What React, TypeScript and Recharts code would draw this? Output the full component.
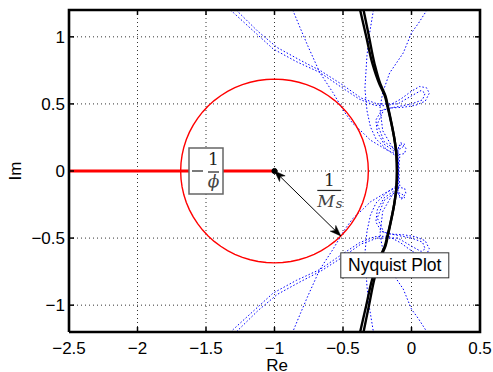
import React from 'react';
import { ComposedChart, Line, XAxis, YAxis, CartesianGrid, ReferenceDot } from 'recharts';

// Axis setup
const xTicks = [-2.5, -2, -1.5, -1, -0.5, 0, 0.5];
const yTicks = [-1, -0.5, 0, 0.5, 1];
const xDomain: [number, number] = [-2.5, 0.5];
const yDomain: [number, number] = [-1.2, 1.2];

// Nominal Nyquist curve (upper half, Re/Im), two close traces forming the thick band
const nyquistTraceA: [number, number][] = [
  [-0.375, 1.2], [-0.33, 1.0], [-0.285, 0.8], [-0.235, 0.65], [-0.195, 0.56],
  [-0.175, 0.48], [-0.148, 0.36], [-0.125, 0.24], [-0.11, 0.12], [-0.106, 0],
];
const nyquistTraceB: [number, number][] = [
  [-0.35, 1.2], [-0.31, 1.0], [-0.27, 0.8], [-0.228, 0.65], [-0.19, 0.56],
  [-0.172, 0.48], [-0.147, 0.36], [-0.125, 0.24], [-0.11, 0.12], [-0.106, 0],
];

// Perturbed-model Nyquist curves (upper half, blue dotted)
const perturbedA1: [number, number][] = [
  [-1.32, 1.2], [-1.3, 1.18], [-1.15, 1.04], [-1.01, 0.91], [-0.84, 0.815], [-0.67, 0.735],
  [-0.52, 0.63], [-0.38, 0.535], [-0.27, 0.49], [-0.17, 0.485], [-0.08, 0.535], [0.0, 0.595],
  [0.06, 0.63], [0.11, 0.62], [0.13, 0.58], [0.1, 0.52], [0.03, 0.49], [-0.06, 0.475],
  [-0.15, 0.47], [-0.22, 0.45], [-0.26, 0.38], [-0.25, 0.29], [-0.2, 0.2], [-0.13, 0.15],
  [-0.07, 0.17], [-0.05, 0.2], [-0.08, 0.21], [-0.1, 0.16], [-0.095, 0.08], [-0.095, 0],
];
const perturbedA2: [number, number][] = [
  [-1.28, 1.2], [-1.26, 1.18], [-1.12, 1.04], [-0.98, 0.92], [-0.82, 0.83], [-0.66, 0.745],
  [-0.5, 0.64], [-0.37, 0.545], [-0.25, 0.5], [-0.1, 0.5], [0.0, 0.56], [0.07, 0.6],
  [0.1, 0.58], [0.08, 0.53], [0.0, 0.5], [-0.1, 0.48], [-0.2, 0.46], [-0.25, 0.35],
  [-0.2, 0.22], [-0.12, 0.16], [-0.1, 0.08], [-0.1, 0],
];
const perturbedB: [number, number][] = [
  [-0.867, 1.2], [-0.81, 1.06], [-0.76, 0.94], [-0.67, 0.735], [-0.574, 0.585],
  [-0.487, 0.436], [-0.43, 0.356], [-0.36, 0.29], [-0.3, 0.23], [-0.18, 0.157], [-0.1, 0.12],
  [-0.05, 0.13], [-0.04, 0.17], [-0.07, 0.2], [-0.1, 0.17], [-0.1, 0.08], [-0.1, 0],
];
const perturbedC: [number, number][] = [
  [-0.278, 1.2], [-0.31, 1.0], [-0.325, 0.86], [-0.34, 0.615], [-0.325, 0.45],
  [-0.3, 0.33], [-0.26, 0.24], [-0.18, 0.16], [-0.11, 0.11], [-0.095, 0.05], [-0.095, 0],
];
const perturbedD: [number, number][] = [
  [0.113, 1.2], [0.05, 1.1], [0.0, 1.03], [-0.06, 0.88], [-0.16, 0.73],
  [-0.21, 0.585], [-0.23, 0.47], [-0.21, 0.3], [-0.135, 0.17], [-0.085, 0.12], [-0.09, 0.05], [-0.09, 0],
];

// Critical-point construction
const criticalPoint = -1;
const circleRadius = 0.685; // 1/Ms
const phiLineStart = -2.5;
const arrowAngleDeg = -45;
const phiLabelRe = -1.5;
const msLabelPos = { re: -0.6, im: -0.145 };
const nyquistLabelPos = { re: -0.122, im: -0.703 };

type P = { re: number; im: number };
const toPts = (a: [number, number][]): P[] => a.map(([re, im]) => ({ re, im }));
// Nyquist plots are conjugate-symmetric: lower half is the mirror of the upper half
const fullCurve = (upper: [number, number][]): P[] => [
  ...toPts(upper),
  ...[...upper].reverse().slice(1).map(([re, im]) => ({ re, im: -im })),
];

const circlePts: P[] = Array.from({ length: 73 }, (_, i) => {
  const t = (i * 5 * Math.PI) / 180;
  return { re: criticalPoint + circleRadius * Math.cos(t), im: circleRadius * Math.sin(t) };
});
const phiLine: P[] = [{ re: phiLineStart, im: 0 }, { re: criticalPoint, im: 0 }];
const arrowPts: P[] = [
  { re: criticalPoint, im: 0 },
  {
    re: criticalPoint + circleRadius * Math.cos((arrowAngleDeg * Math.PI) / 180),
    im: circleRadius * Math.sin((arrowAngleDeg * Math.PI) / 180),
  },
];
// Axes box (plot frame) through the domain corners
const framePts: P[] = [
  { re: xDomain[0], im: yDomain[0] }, { re: xDomain[0], im: yDomain[1] },
  { re: xDomain[1], im: yDomain[1] }, { re: xDomain[1], im: yDomain[0] },
  { re: xDomain[0], im: yDomain[0] },
];

const blueCurves = [perturbedA1, perturbedA2, perturbedB, perturbedC, perturbedD].map(fullCurve);
const blackCurves = [nyquistTraceA, nyquistTraceB].map(fullCurve);

const SANS = '"Liberation Sans", Arial, Helvetica, sans-serif';
const SERIF = '"DejaVu Serif", "Liberation Serif", serif';
const fmt = (v: number) => (v < 0 ? '\u2212' : '') + String(Math.abs(v));

const BottomTick = (p: any) => (
  <g>
    <line x1={p.x} y1={p.y} x2={p.x} y2={p.y - 5} stroke="#000" strokeWidth={1.5} />
    <text x={p.x} y={p.y + 22} textAnchor="middle" fontSize={17} fontFamily={SANS} fill="#000">
      {fmt(p.payload.value)}
    </text>
  </g>
);
const LeftTick = (p: any) => (
  <g>
    <line x1={p.x} y1={p.y} x2={p.x + 5} y2={p.y} stroke="#000" strokeWidth={1.5} />
    <text x={p.x - 4} y={p.y + 6} textAnchor="end" fontSize={17} fontFamily={SANS} fill="#000">
      {fmt(p.payload.value)}
    </text>
  </g>
);
const TopTickMark = (p: any) => (
  <line x1={p.cx} y1={p.cy} x2={p.cx} y2={p.cy + 5} stroke="#000" strokeWidth={1.5} />
);
const RightTickMark = (p: any) => (
  <line x1={p.cx} y1={p.cy} x2={p.cx - 5} y2={p.cy} stroke="#000" strokeWidth={1.5} />
);

const ArrowDot = (props: any) => {
  const { cx, cy, index, points } = props;
  let dx = index === 0 ? -1 : 1;
  let dy = index === 0 ? -1 : 1;
  if (points && points.length === 2) {
    const o = points[1 - index];
    dx = cx - o.x;
    dy = cy - o.y;
  }
  const len = Math.hypot(dx, dy) || 1;
  const ux = dx / len;
  const uy = dy / len;
  const L = 11, W = 4, N = 8;
  const bx = cx - ux * L;
  const by = cy - uy * L;
  const d = `M${cx},${cy} L${bx - uy * W},${by + ux * W} L${cx - ux * N},${cy - uy * N} L${bx + uy * W},${by - ux * W} Z`;
  return <path key={`ah${index}`} d={d} fill="#000" stroke="#000" strokeWidth={0.5} />;
};

const PhiLabel = (p: any) => {
  const { cx, cy } = p;
  return (
    <g>
      <rect x={cx - 17} y={cy - 23} width={34} height={46} fill="#fff" stroke="#666" strokeWidth={1.5} />
      <line x1={cx - 14} y1={cy} x2={cx - 3} y2={cy} stroke="#222" strokeWidth={1.2} />
      <text x={cx + 7.5} y={cy - 6} textAnchor="middle" fontSize={17} fontFamily={SERIF} fill="#222">1</text>
      <line x1={cx + 2} y1={cy + 1} x2={cx + 13} y2={cy + 1} stroke="#222" strokeWidth={1.2} />
      <text x={cx + 7.5} y={cy + 16} textAnchor="middle" fontSize={17} fontStyle="italic" fontFamily={SERIF} fill="#444">{'\u03D5'}</text>
    </g>
  );
};

const MsLabel = (p: any) => {
  const { cx, cy } = p;
  return (
    <g>
      <text x={cx} y={cy - 4} textAnchor="middle" fontSize={17} fontFamily={SERIF} fill="#222">1</text>
      <line x1={cx - 12} y1={cy} x2={cx + 12} y2={cy} stroke="#222" strokeWidth={1.2} />
      <text x={cx - 12} y={cy + 17} fontSize={17} fontStyle="italic" fontFamily={SERIF} fill="#444">
        M<tspan fontSize={13} dx={1} dy={1}>s</tspan>
      </text>
    </g>
  );
};

const NyquistLabel = (p: any) => {
  const { cx, cy } = p;
  return (
    <g>
      <rect x={cx - 54} y={cy - 12.5} width={108} height={25} fill="#fff" stroke="#333" strokeWidth={1} />
      <text x={cx} y={cy + 6} textAnchor="middle" fontSize={17.5} fontFamily={SANS} fill="#000">Nyquist Plot</text>
    </g>
  );
};

export default function App() {
  return (
    <div style={{ position: 'absolute', left: 0, top: 0, width: 493, height: 372, overflow: 'hidden', background: '#fff' }}>
      <ComposedChart width={493} height={372} margin={{ top: 10, right: 13, bottom: 10, left: 9 }}>
        <CartesianGrid stroke="#333" strokeDasharray="1 3" strokeWidth={1} />
        <XAxis
          dataKey="re" type="number" domain={xDomain} ticks={xTicks} interval={0}
          height={30} tickSize={0} tickMargin={0} tickLine={false} tick={BottomTick} axisLine={false}
        />
        <YAxis
          dataKey="im" type="number" domain={yDomain} ticks={yTicks} interval={0}
          width={60} tickSize={0} tickMargin={0} tickLine={false} tick={LeftTick} axisLine={false}
        />
        {blueCurves.map((c, i) => (
          <Line
            key={`blue${i}`} data={c} dataKey="im" type="linear" stroke="#0000ff" strokeWidth={1}
            strokeDasharray="1.5 2" dot={false} activeDot={false} isAnimationActive={false} legendType="none"
          />
        ))}
        <Line data={circlePts} dataKey="im" type="linear" stroke="#ff0000" strokeWidth={1.4} dot={false} activeDot={false} isAnimationActive={false} />
        <Line data={phiLine} dataKey="im" type="linear" stroke="#ff0000" strokeWidth={3.2} dot={false} activeDot={false} isAnimationActive={false} />
        {blackCurves.map((c, i) => (
          <Line
            key={`blk${i}`} data={c} dataKey="im" type="monotoneY" stroke="#000" strokeWidth={2.4}
            dot={false} activeDot={false} isAnimationActive={false} legendType="none"
          />
        ))}
        <Line data={arrowPts} dataKey="im" type="linear" stroke="#000" strokeWidth={1} dot={ArrowDot} activeDot={false} isAnimationActive={false} />
        <ReferenceDot x={criticalPoint} y={0} r={2.6} fill="#000" stroke="#000" />
        <ReferenceDot x={phiLabelRe} y={0} shape={PhiLabel} />
        <ReferenceDot x={msLabelPos.re} y={msLabelPos.im} shape={MsLabel} />
        <ReferenceDot x={nyquistLabelPos.re} y={nyquistLabelPos.im} shape={NyquistLabel} />
        <Line data={framePts} dataKey="im" type="linear" stroke="#000" strokeWidth={2.6} dot={false} activeDot={false} isAnimationActive={false} legendType="none" />
        {xTicks.map((t) => (
          <ReferenceDot key={`tt${t}`} x={t} y={yDomain[1]} shape={TopTickMark} ifOverflow="visible" />
        ))}
        {yTicks.map((t) => (
          <ReferenceDot key={`rt${t}`} x={xDomain[1]} y={t} shape={RightTickMark} ifOverflow="visible" />
        ))}
      </ComposedChart>
      <svg width={493} height={372} style={{ position: 'absolute', left: 0, top: 0, pointerEvents: 'none' }}>
        <text x={277} y={371} textAnchor="middle" fontSize={17} fontFamily={SANS} fill="#000">Re</text>
        <text x={21} y={171} textAnchor="middle" fontSize={17} fontFamily={SANS} fill="#000" transform="rotate(-90 21 171)">Im</text>
      </svg>
    </div>
  );
}
